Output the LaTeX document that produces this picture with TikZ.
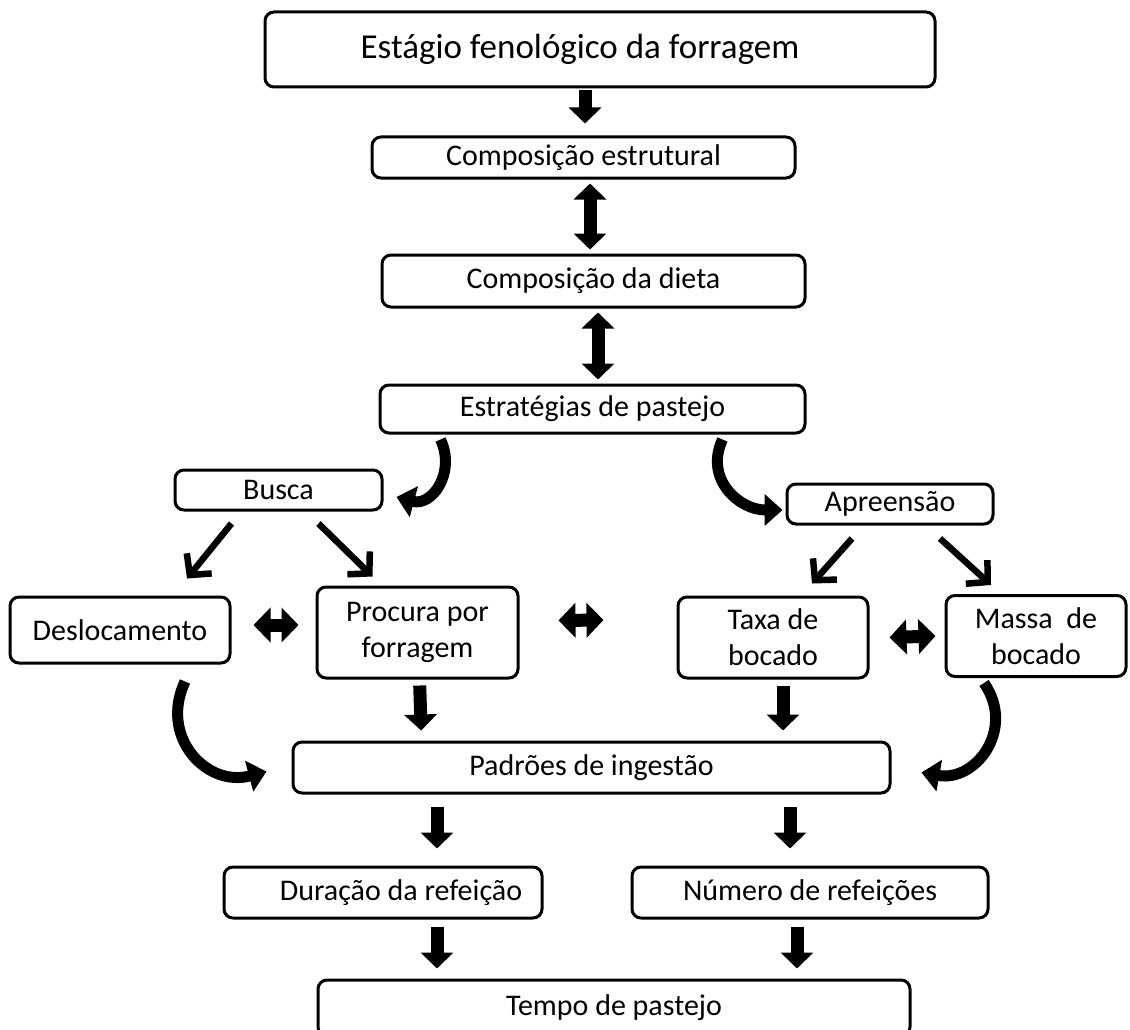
\documentclass[tikz,border=0pt]{standalone}
\usepackage{fontspec}
\setmainfont{Carlito}
\usetikzlibrary{arrows.meta, positioning}
\def\tipL{16pt}
\def\tipW{32pt}

\begin{document}
\begin{tikzpicture}[
    x=1pt, y=1pt,
    box/.style={draw, line width=3pt, rounded corners=9pt, align=center,
        inner sep=0pt, font=\fontsize{30}{36}\selectfont},
    darr/.style={line width=13pt, -{Triangle[length=\tipL,width=\tipW]}},
    ddarr/.style={line width=13pt,
        {Triangle[length=\tipL,width=\tipW]}-{Triangle[length=\tipL,width=\tipW]}},
    harr/.style={line width=13pt,
        {Triangle[length=17pt,width=34pt]}-{Triangle[length=17pt,width=34pt]}},
    carr/.style={line width=11pt, -{Triangle[length=18pt,width=31pt]}},
    sarr/.style={line width=6.5pt, -{Straight Barb[length=15pt,width=32pt]}}
]
\useasboundingbox (0,0) rectangle (1130,-1030);

% boxes
\node[box, minimum width=670pt, minimum height=75pt,
    font=\fontsize{35}{38}\selectfont] (top) at (600,-49.5) {Estágio fenológico da forragem\hspace*{40pt}};
\node[box, minimum width=423pt, minimum height=41pt] (ce) at (583.5,-157.5) {Composição estrutural};
\node[box, minimum width=423pt, minimum height=52pt] (cd) at (593.5,-281) {Composição da dieta};
\node[box, minimum width=425pt, minimum height=48pt] (ep) at (592.5,-409) {Estratégias de pastejo};
\node[box, minimum width=207pt, minimum height=40pt] (busca) at (278.5,-490) {Busca};
\node[box, minimum width=206pt, minimum height=40pt] (apre) at (890,-504) {Apreensão};
\node[box, minimum width=220pt, minimum height=66pt] (desl) at (120,-630) {Deslocamento};
\node[box, minimum width=201pt, minimum height=91pt] (proc) at (417.5,-632.5) {Procura por\\forragem};
\node[box, minimum width=190pt, minimum height=81pt] (taxa) at (773,-637.5) {Taxa de\\bocado};
\node[box, minimum width=180pt, minimum height=81pt] (massa) at (1036,-636) {Massa~~de\\bocado};
\node[box, minimum width=597pt, minimum height=51pt] (padr) at (591.5,-767.5) {Padrões de ingestão};
\node[box, minimum width=318pt, minimum height=51pt] (dur) at (383,-892.5) {\hspace*{36pt}Duração da refeição};
\node[box, minimum width=356pt, minimum height=51pt] (num) at (810,-892.5) {Número de refeições};
\node[box, minimum width=592pt, minimum height=56pt] (tempo) at (614,-1008) {Tempo de pastejo};

% vertical chain
\draw[darr, shorten <=2pt, shorten >=12pt] ([xshift=-15pt]top.south) -- ([xshift=1.5pt]ce.north);
\draw[ddarr, shorten <=4pt, shorten >=4pt] ([xshift=6.5pt]ce.south) -- ([xshift=-3.5pt]cd.north);
\draw[ddarr, shorten <=4pt, shorten >=4pt] ([xshift=4.5pt]cd.south) -- ([xshift=5.5pt]ep.north);

% curved arrows from strategies
\draw[carr] ([xshift=-152pt,yshift=-5pt]ep.south) to[out=-65, in=-15, looseness=1.3]
    ([xshift=13pt,yshift=-7pt]busca.east);
\draw[carr] ([xshift=130pt,yshift=-5pt]ep.south) to[out=-115, in=180, looseness=1.2]
    ([xshift=-3pt,yshift=-6pt]apre.west);

% split arrows
\draw[sarr] ([xshift=-47pt,yshift=-12pt]busca.south) -- ([xshift=67pt,yshift=17pt]desl.north);
\draw[sarr] ([xshift=40pt,yshift=-12pt]busca.south) -- ([xshift=-45pt,yshift=9pt]proc.north);
\draw[sarr] ([xshift=-38pt,yshift=-13pt]apre.south) -- ([xshift=39pt,yshift=12pt]taxa.north);
\draw[sarr] ([xshift=50pt,yshift=-13pt]apre.south) -- ([xshift=-45pt,yshift=9pt]massa.north);

% side by side
\draw[harr] ([xshift=22pt,yshift=5pt]desl.east) -- ([xshift=-17pt,yshift=7.5pt]proc.west);
\draw[harr] ([xshift=39pt,yshift=12pt]proc.east) -- ([xshift=-73pt,yshift=17.5pt]taxa.west);
\draw[harr] ([xshift=20pt]taxa.east) -- ([xshift=-9pt]massa.west);

% into intake patterns
\draw[darr, shorten <=6pt, shorten >=10pt] ([xshift=2pt]proc.south) -- ([xshift=-170pt]padr.north);
\draw[darr, shorten <=6pt, shorten >=10pt] ([xshift=10pt]taxa.south) -- ([xshift=191.5pt]padr.north);
\draw[carr] ([xshift=65pt,yshift=-17pt]desl.south) to[out=-115, in=195, looseness=1.3]
    ([xshift=-25pt,yshift=-4pt]padr.west);
\draw[carr] ([xshift=-52pt,yshift=-5pt]massa.south) to[out=-55, in=-10, looseness=1.3]
    ([xshift=30pt,yshift=-5pt]padr.east);

% to meals and grazing time
\draw[darr, shorten <=12pt, shorten >=17pt] ([xshift=-154.5pt]padr.south) -- ([xshift=54pt]dur.north);
\draw[darr, shorten <=12pt, shorten >=17pt] ([xshift=198.5pt]padr.south) -- ([xshift=-20pt]num.north);
\draw[darr, shorten <=7pt, shorten >=10pt] ([xshift=54pt]dur.south) -- ([xshift=-177pt]tempo.north);
\draw[darr, shorten <=7pt, shorten >=10pt] ([xshift=-13pt]num.south) -- ([xshift=183pt]tempo.north);
\end{tikzpicture}
\end{document}
